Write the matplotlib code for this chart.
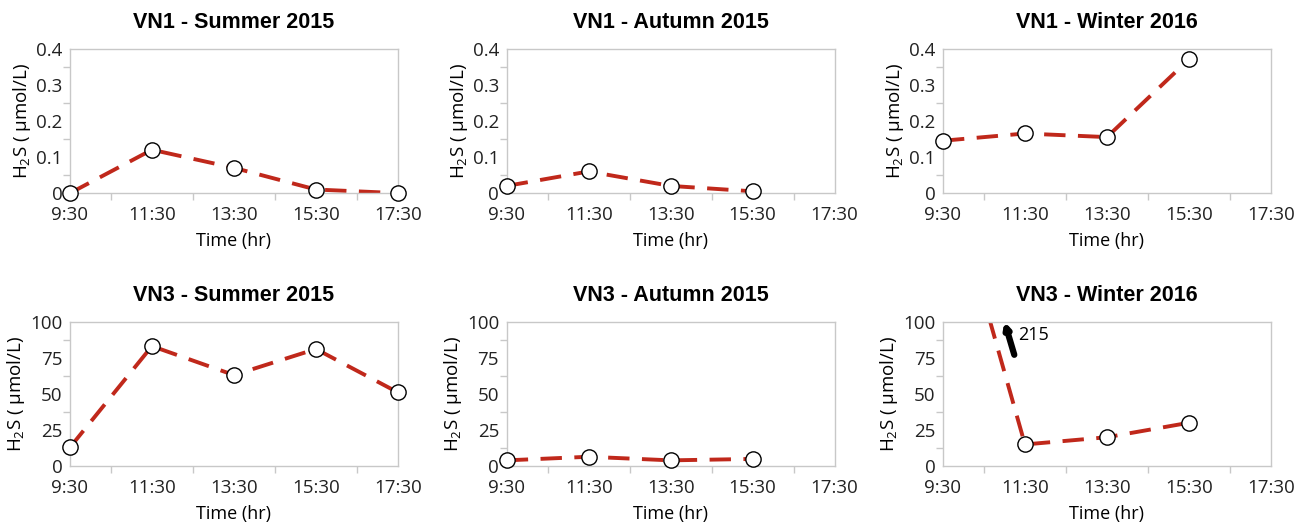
import matplotlib
matplotlib.use("Agg")
import matplotlib.pyplot as plt

# sampling times in hours (9:30 -> 9.5)
times = [9.5, 11.5, 13.5, 15.5, 17.5]
time_labels = ["9:30", "11:30", "13:30", "15:30", "17:30"]

titles = ["VN1 - Summer 2015", "VN1 - Autumn 2015", "VN1 - Winter 2016",
          "VN3 - Summer 2015", "VN3 - Autumn 2015", "VN3 - Winter 2016"]

vn1_summer = [0.0, 0.12, 0.07, 0.01, 0.0]
vn1_autumn = [0.02, 0.06, 0.02, 0.005]
vn1_winter = [0.145, 0.165, 0.155, 0.37]
vn3_summer = [13, 83, 63, 81, 51]
vn3_autumn = [4, 6.5, 4, 5]
vn3_winter = [215, 15, 20, 30]

series = [vn1_summer, vn1_autumn, vn1_winter, vn3_summer, vn3_autumn, vn3_winter]

plt.rcParams['font.family'] = ['Open Sans', 'DejaVu Sans']
plt.rcParams['mathtext.fontset'] = 'custom'
plt.rcParams['mathtext.rm'] = 'Open Sans'
plt.rcParams['mathtext.it'] = 'Open Sans'

red = "#c0281b"
grey = "#c8c8c8"

fig = plt.figure(figsize=(12.96, 5.22), dpi=100)
lefts = [0.054, 0.391, 0.7276]
bottoms = [0.630, 0.107]
w, h = 0.253, 0.277

for i, vals in enumerate(series):
    row, col = divmod(i, 3)
    ax = fig.add_axes([lefts[col], bottoms[row], w, h])
    x = times[:len(vals)]
    top = 0.4 if row == 0 else 100
    ax.plot(x, vals, color=red, lw=2.8, dashes=(5.5, 3.2), zorder=2)
    # markers only for points inside the axis range, not clipped at the frame
    xs = [t for t, v in zip(x, vals) if v <= top]
    vs = [v for v in vals if v <= top]
    ax.plot(xs, vs, ls="none", marker="o", ms=11, mfc="white", mec="black",
            mew=1.0, zorder=3, clip_on=False)
    ax.set_xlim(9.5, 17.5)
    ax.set_xticks(times)
    ax.set_xticklabels(time_labels)
    ax.set_xticks([10.5, 12.5, 14.5, 16.5], minor=True)
    ax.set_ylim(0, top)
    if row == 0:
        ax.set_yticks([0, 0.1, 0.2, 0.3, 0.4])
        ax.set_yticklabels(["0", "0.1", "0.2", "0.3", "0.4"])
        ax.set_yticks([0.05, 0.15, 0.25, 0.35], minor=True)
    else:
        ax.set_yticks([0, 25, 50, 75, 100])
        ax.set_yticks([12.5, 37.5, 62.5, 87.5], minor=True)
    for s in ax.spines.values():
        s.set_color(grey)
        s.set_linewidth(1.0)
    ax.tick_params(which="both", direction="out")
    ax.tick_params(which="minor", length=5, color=grey, width=1.0)
    ax.tick_params(axis="x", which="major", length=0, labelsize=13.5, pad=9,
                   colors="#222222")
    ax.tick_params(axis="y", which="major", length=0, labelsize=13.5, pad=5.5,
                   colors="#222222")
    ax.set_title(titles[i], fontsize=15.5, fontweight="bold",
                 family=["Liberation Sans", "DejaVu Sans"], pad=15)
    ax.set_xlabel("Time (hr)", fontsize=13, labelpad=6)
    ax.set_ylabel(r"H$_2$S ( µmol/L)", fontsize=13.5, labelpad=2)

    if i == 5:
        ax.annotate("", xy=(11.0, 100), xytext=(11.24, 77),
                    arrowprops=dict(arrowstyle="-|>,head_length=0.3,head_width=0.15",
                                    color="black", lw=4.5, shrinkA=0, shrinkB=0),
                    annotation_clip=False)
        ax.text(11.33, 91, "215", fontsize=13, va="center", ha="left")

fig.savefig("out.png", dpi=100, facecolor="white")
